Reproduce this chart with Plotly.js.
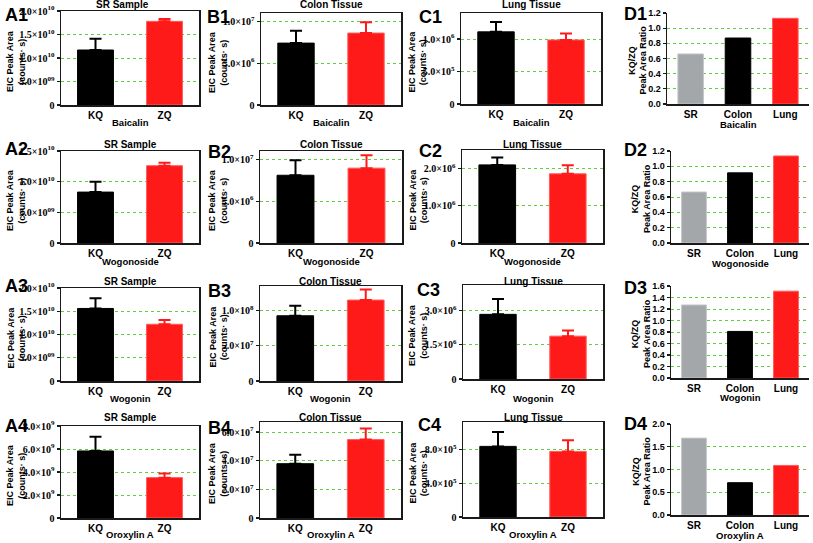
<!DOCTYPE html>
<html><head><meta charset="utf-8">
<script src="https://cdn.plot.ly/plotly-3.0.1.min.js"></script>
<style>html,body{margin:0;padding:0;background:#fff}#chart{width:813px;height:543px}</style>
</head><body><div id="chart"></div>
<script>
// ---------- data ----------
const groups = ['KQ', 'ZQ'];
const tissues = ['SR', 'Colon', 'Lung'];
const compounds = ['Baicalin', 'Wogonoside', 'Wogonin', 'Oroxylin A'];
const panelTitles = ['SR Sample', 'Colon Tissue', 'Lung Tissue'];
const panelLetters = ['A', 'B', 'C', 'D'];

const srMean    = [[1.17e10, 1.78e10], [8.3e9, 1.26e10], [1.56e10, 1.22e10], [5.83e9, 3.51e9]];
const srSD      = [[2.4e9, 0.5e9], [1.7e9, 0.5e9], [2.2e9, 0.9e9], [1.24e9, 0.35e9]];
const colonMean = [[7.4e6, 8.6e6], [8.1e6, 8.95e6], [9.27e7, 1.15e8], [3.79e7, 5.47e7]];
const colonSD   = [[1.47e6, 1.3e6], [1.8e6, 1.55e6], [1.43e7, 1.5e7], [0.62e7, 0.78e7]];
const lungMean  = [[1.11e6, 0.985e6], [2.1e6, 1.86e6], [2.82e6, 1.87e6], [8.4e5, 7.8e5]];
const lungSD    = [[1.5e5, 1.0e5], [2.0e5, 2.3e5], [6.7e5, 2.5e5], [1.7e5, 1.33e5]];
const ratio     = [[0.66, 0.87, 1.13], [0.665, 0.915, 1.135], [1.27, 0.81, 1.51], [1.69, 0.71, 1.09]];

// tick values / labels
const srTickVals = [[0, 5e9, 1e10, 1.5e10, 2e10], [0, 5e9, 1e10, 1.5e10], [0, 5e9, 1e10, 1.5e10, 2e10], [0, 2e9, 4e9, 6e9, 8e9]];
const srTickText = [
  ['0', '5.0×10<sup>09</sup>', '1.0×10<sup>10</sup>', '1.5×10<sup>10</sup>', '2.0×10<sup>10</sup>'],
  ['0', '5.0×10<sup>09</sup>', '1.0×10<sup>10</sup>', '1.5×10<sup>10</sup>'],
  ['0', '5.0×10<sup>09</sup>', '1.0×10<sup>10</sup>', '1.5×10<sup>10</sup>', '2.0×10<sup>10</sup>'],
  ['0', '2.0×10<sup>9</sup>', '4.0×10<sup>9</sup>', '6.0×10<sup>9</sup>', '8.0×10<sup>9</sup>']
];
const colonTickVals = [[0, 5e6, 1e7], [0, 5e6, 1e7], [0, 5e7, 1e8], [0, 2e7, 4e7, 6e7]];
const colonTickText = [
  ['0', '5.0×10<sup>6</sup>', '1.0×10<sup>7</sup>'],
  ['0', '5.0×10<sup>6</sup>', '1.0×10<sup>7</sup>'],
  ['0', '5.0×10<sup>7</sup>', '1.0×10<sup>8</sup>'],
  ['0', '2.0×10<sup>7</sup>', '4.0×10<sup>7</sup>', '6.0×10<sup>7</sup>']
];
const lungTickVals = [[0, 5e5, 1e6], [0, 1e6, 2e6], [0, 1.5e6, 3e6], [0, 4e5, 8e5]];
const lungTickText = [
  ['0', '5.0×10<sup>5</sup>', '1.0×10<sup>6</sup>'],
  ['0', '1.0×10<sup>6</sup>', '2.0×10<sup>6</sup>'],
  ['0', '1.5×10<sup>6</sup>', '3.0×10<sup>6</sup>'],
  ['0', '4.0×10<sup>5</sup>', '8.0×10<sup>5</sup>']
];
const ratioTickVals = [
  [0, 0.2, 0.4, 0.6, 0.8, 1.0, 1.2],
  [0, 0.2, 0.4, 0.6, 0.8, 1.0, 1.2],
  [0, 0.2, 0.4, 0.6, 0.8, 1.0, 1.2, 1.4, 1.6],
  [0, 0.5, 1.0, 1.5, 2.0]
];
const ratioTickText = [
  ['0.0', '0.2', '0.4', '0.6', '0.8', '1.0', '1.2'],
  ['0.0', '0.2', '0.4', '0.6', '0.8', '1.0', '1.2'],
  ['0.0', '0.2', '0.4', '0.6', '0.8', '1.0', '1.2', '1.4', '1.6'],
  ['0.0', '0.5', '1.0', '1.5', '2.0']
];
const yMax = [[2e10, 1.1e7, 1.4e6, 1.2], [1.5e10, 1.1e7, 2.5e6, 1.2], [2e10, 1.35e8, 4.1e6, 1.6], [8e9, 6.7e7, 1.13e6, 2.0]];

// ---------- layout geometry (pixels: x0, x1, y0, y1) ----------
const W = 813, H = 543;
const rects = [
  [[61, 199, 11, 105], [261, 401, 13, 105], [461, 601, 13, 104], [667, 809, 13, 104]],
  [[61, 199, 151, 243], [260, 402, 151, 243], [462, 603, 150, 243], [671, 809, 151, 243]],
  [[61, 199, 288, 381], [260, 401, 286, 381], [463, 603, 285, 379], [671, 809, 286, 378]],
  [[61, 199, 426, 518], [260, 401, 422, 518], [463, 603, 422, 517], [671, 809, 424, 515]]
];
const letterPos = [
  [[3, 15], [205, 17], [417, 17], [622, 14]],
  [[3, 149], [206, 152], [417, 151], [622, 150]],
  [[3, 286], [206, 291], [415, 290], [622, 288]],
  [[3, 426], [206, 428], [416, 425], [622, 424]]
];
const titleY = [5, 144, 281, 417];
const xTitleY = [[123, 123, 123, 125], [261, 261, 261, 263], [398, 398, 398, 397], [534, 534, 534, 535]];

const RED = '#ff1a1a', BLACK = '#000000', GRAY = '#a4a7aa';
const GRID = '#5fcf3f';
const px = (x) => x / W;
const py = (y) => 1 - y / H;

const data = [];
const layout = {
  width: W, height: H,
  margin: {l: 0, r: 0, t: 0, b: 0},
  paper_bgcolor: '#fff', plot_bgcolor: 'rgba(0,0,0,0)',
  showlegend: false, barmode: 'overlay',
  annotations: []
};
const ann = (text, x, y, size, extra) => layout.annotations.push(Object.assign({
  text: text, x: px(x), y: py(y), xref: 'paper', yref: 'paper', showarrow: false,
  xanchor: 'center', yanchor: 'middle',
  font: {family: 'Liberation Sans, Arial, sans-serif', size: size, color: '#000', weight: 'bold'}
}, extra || {}));

const means = [srMean, colonMean, lungMean];
const sds = [srSD, colonSD, lungSD];
const tvals = [srTickVals, colonTickVals, lungTickVals];
const ttext = [srTickText, colonTickText, lungTickText];

for (let r = 0; r < 4; r++) {
  for (let c = 0; c < 4; c++) {
    const n = r * 4 + c + 1;
    const rc = rects[r][c];
    const xa = 'xaxis' + (n === 1 ? '' : n), ya = 'yaxis' + (n === 1 ? '' : n);
    const xr = 'x' + (n === 1 ? '' : n), yr = 'y' + (n === 1 ? '' : n);
    const isD = c === 3;
    const cx = (rc[0] + rc[1]) / 2, cy = (rc[2] + rc[3]) / 2;

    if (!isD) {
      const cols = [BLACK, RED];
      const lines = [BLACK, '#ff5a5a'];
      groups.forEach((g, i) => {
        data.push({
          type: 'bar', x: [g], y: [means[c][r][i]], xaxis: xr, yaxis: yr, width: 0.52,
          marker: {color: cols[i], line: {color: lines[i], width: 1}},
          error_y: {type: 'data', symmetric: false, array: [sds[c][r][i]], arrayminus: [0],
                    color: cols[i], thickness: 2, width: 6},
          hoverinfo: 'skip'
        });
      });
      layout[xa] = {
        domain: [px(rc[0]), px(rc[1])], anchor: yr, type: 'category',
        categoryorder: 'array', categoryarray: groups, range: [-0.5, 1.5],
        showline: true, mirror: true, linecolor: '#1a1a1a', linewidth: 1.5,
        ticks: '', ticklen: 0, showgrid: false, zeroline: false,
        tickfont: {family: 'Liberation Sans, Arial, sans-serif', size: 10, color: '#000', weight: 'bold'}
      };
      layout[ya] = {
        domain: [py(rc[3]), py(rc[2])], anchor: xr, range: [0, yMax[r][c]],
        tickmode: 'array', tickvals: tvals[c][r], ticktext: ttext[c][r],
        ticks: 'outside', ticklen: 3, tickwidth: 1.2, tickcolor: '#1a1a1a',
        showline: true, mirror: true, linecolor: '#1a1a1a', linewidth: 1.5,
        showgrid: true, gridcolor: GRID, griddash: 'dot', gridwidth: 1, zeroline: false,
        tickfont: {family: 'Liberation Serif, Times New Roman, serif', size: 10, color: '#000', weight: 'bold'}
      };
      ann(panelTitles[c], r === 0 && c === 0 ? 122 : cx, titleY[r], 10);
      ann('EIC Peak Area<br>(counts· s)', [16, 218, 418][c], cy + 3, 9, {textangle: -90});
    } else {
      data.push({
        type: 'bar', x: tissues, y: ratio[r], xaxis: xr, yaxis: yr, width: 0.54,
        marker: {color: [GRAY, BLACK, RED], line: {color: ['#c4c7ca', BLACK, '#ff5a5a'], width: 1}},
        hoverinfo: 'skip'
      });
      layout[xa] = {
        domain: [px(rc[0]), px(rc[1])], anchor: yr, type: 'category',
        categoryorder: 'array', categoryarray: tissues, range: [-0.5, 2.5],
        showline: true, mirror: false, linecolor: '#1a1a1a', linewidth: 1.5,
        ticks: '', ticklen: 0, showgrid: false, zeroline: false,
        tickfont: {family: 'Liberation Sans, Arial, sans-serif', size: 10, color: '#000', weight: 'bold'}
      };
      layout[ya] = {
        domain: [py(rc[3]), py(rc[2])], anchor: xr, range: [0, yMax[r][c]],
        tickmode: 'array', tickvals: ratioTickVals[r], ticktext: ratioTickText[r],
        ticks: 'outside', ticklen: 3, tickwidth: 1.2, tickcolor: '#1a1a1a',
        showline: true, mirror: false, linecolor: '#1a1a1a', linewidth: 1.5,
        showgrid: true, gridcolor: GRID, griddash: 'dot', gridwidth: 1, zeroline: false,
        tickfont: {family: 'Liberation Sans, Arial, sans-serif', size: 9, color: '#000', weight: 'bold'}
      };
      ann('KQ/ZQ<br>Peak Area Ratio', r === 0 ? 638 : 641, cy + 2, 9, {textangle: -90});
    }
    // x title (compound name)
    const xt = isD ? (rc[0] + (rc[1] - rc[0]) / 2) : cx;
    ann(compounds[r], xt, xTitleY[r][c], 9.5);
    // panel letter
    ann(panelLetters[c] + (r + 1), letterPos[r][c][0], letterPos[r][c][1], 18, {xanchor: 'left'});
  }
}

Plotly.newPlot('chart', data, layout, {staticPlot: true, displayModeBar: false});
</script>
</body></html>
